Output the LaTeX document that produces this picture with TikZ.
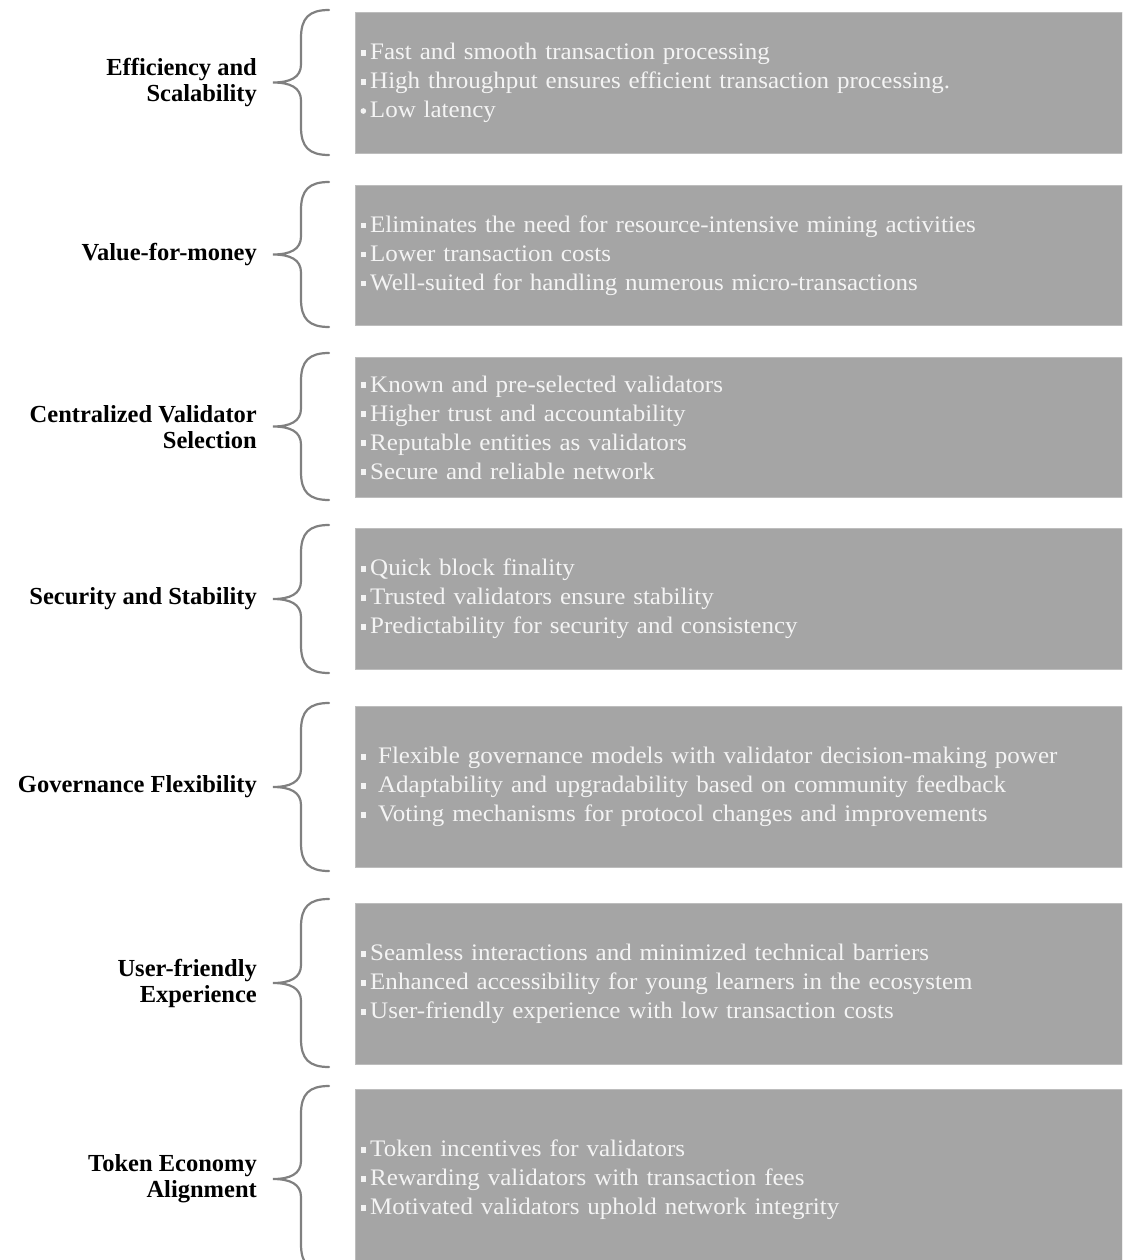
\documentclass[tikz,border=0pt]{standalone}
\usepackage{fontspec}
\setmainfont{Liberation Serif}
\newfontfamily\boxfont[FakeStretch=1.055]{Liberation Serif}
\definecolor{boxfill}{HTML}{A5A5A5}
\definecolor{boxline}{HTML}{BDBDBD}
\definecolor{boxtext}{HTML}{F4F4F4}
\definecolor{bracecol}{HTML}{808080}
\newcommand\sqb{\raisebox{0.16em}{\rule{0.25em}{0.25em}}\hspace{0.16em}}
\newcommand\rdb{\raisebox{0.16em}{\tikz\fill (0,0) circle (0.12em);}\hspace{0.16em}}
\newcommand\drawbrace[2]{%
  \pgfmathsetmacro\brT{#1}\pgfmathsetmacro\brB{#2}\pgfmathsetmacro\brM{(#1+#2)/2}%
  \draw[brc] (329,\brT) .. controls (309,\brT) and (301,\brT+8) .. (301,\brT+28)
    -- (301,\brM-18) .. controls (301,\brM-5) and (290,\brM) .. (273,\brM)
    .. controls (290,\brM) and (301,\brM+5) .. (301,\brM+18)
    -- (301,\brB-28) .. controls (301,\brB-8) and (309,\brB) .. (329,\brB);}
\tikzset{
  box/.style={draw=boxline, fill=boxfill, line width=1pt, rectangle, anchor=north west,
    minimum width=767pt, inner xsep=5pt, inner ysep=0pt, text width=757pt, align=left,
    text=boxtext, font=\boxfont\fontsize{23.7}{29}\selectfont},
  lbl/.style={anchor=east, align=right, inner sep=0pt, text=black,
    font=\fontsize{24.5}{26}\selectfont\bfseries},
  brc/.style={draw=bracecol, line width=2.2pt, line cap=round}
}
\begin{document}
\begin{tikzpicture}[x=1pt,y=-1pt]
\clip (0,0) rectangle (1122,1260);
\useasboundingbox (0,0) rectangle (1122,1260);
% boxes
\node[box, minimum height=141pt] (b1) at (355,12) {\sqb Fast and smooth transaction processing\\\sqb High throughput ensures efficient transaction processing.\\\rdb Low latency};
\node[box, minimum height=140pt] (b2) at (355,185) {\sqb Eliminates the need for resource-intensive mining activities\\\sqb Lower transaction costs\\\sqb Well-suited for handling numerous micro-transactions};
\node[box, minimum height=140pt] (b3) at (355,357) {\sqb Known and pre-selected validators\\\sqb Higher trust and accountability\\\sqb Reputable entities as validators\\\sqb Secure and reliable network};
\node[box, minimum height=141pt] (b4) at (355,528) {\sqb Quick block finality\\\sqb Trusted validators ensure stability\\\sqb Predictability for security and consistency};
\node[box, minimum height=161pt] (b5) at (355,706) {\sqb\ Flexible governance models with validator decision-making power\\\sqb\ Adaptability and upgradability based on community feedback\\\sqb\ Voting mechanisms for protocol changes and improvements};
\node[box, minimum height=161pt] (b6) at (355,903) {\sqb Seamless interactions and minimized technical barriers\\\sqb Enhanced accessibility for young learners in the ecosystem\\\sqb User-friendly experience with low transaction costs};
\node[box, minimum height=180pt] (b7) at (355,1089) {\sqb Token incentives for validators\\\sqb Rewarding validators with transaction fees\\\sqb Motivated validators uphold network integrity};
% braces
\drawbrace{10}{155}
\drawbrace{182}{327}
\drawbrace{353}{500}
\drawbrace{525}{673}
\drawbrace{703}{871}
\drawbrace{899}{1067}
\drawbrace{1086}{1272}
% labels
\node[lbl] (l1) at (257,82.5) {Efficiency and\\Scalability};
\node[lbl] (l2) at (257,255) {Value-for-money};
\node[lbl] (l3) at (257,427) {Centralized Validator\\Selection};
\node[lbl] (l4) at (257,598.5) {Security and Stability};
\node[lbl] (l5) at (257,786.5) {Governance Flexibility};
\node[lbl] (l6) at (257,983.5) {User-friendly\\Experience};
\node[lbl] (l7) at (257,1179) {Token Economy\\Alignment};
\end{tikzpicture}
\end{document}
